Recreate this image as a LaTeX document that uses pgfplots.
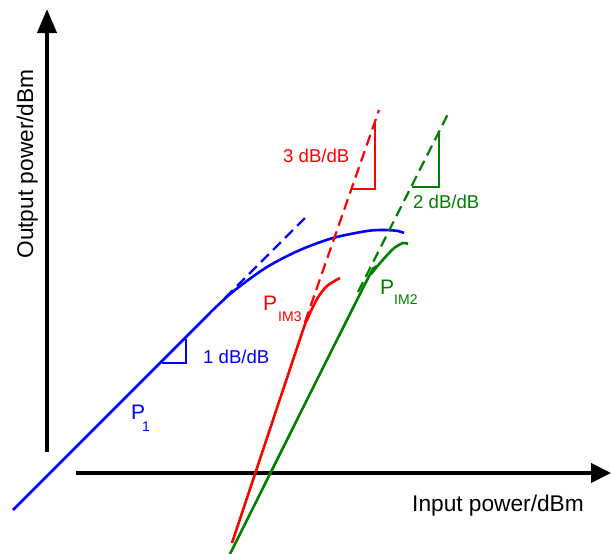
\documentclass[border=0pt]{standalone}
\usepackage{pgfplots}
\pgfplotsset{compat=1.18}
\usetikzlibrary{arrows.meta}
\usepackage{fontspec}
\setmainfont{Liberation Sans}
\definecolor{cblue}{RGB}{0,0,255}
\definecolor{cred}{RGB}{255,0,0}
\definecolor{cgreen}{RGB}{0,128,0}
\newcommand{\fa}{\fontsize{22.7}{27}\selectfont}
\newcommand{\fb}{\fontsize{18.6}{22}\selectfont}
\newcommand{\fp}{\fontsize{21}{25}\selectfont}
\newcommand{\fs}{\fontsize{14}{16}\selectfont}
\begin{document}
\begin{tikzpicture}
\begin{axis}[
  hide axis, scale only axis,
  width=611pt, height=554pt,
  xmin=0, xmax=611, ymin=0, ymax=554,
  y dir=reverse, clip=false,
]
% axes arrows
\addplot[black, line width=4pt, -{Triangle[length=24pt,width=19pt]}] coordinates {(47,452) (47,9)};
\addplot[black, line width=4pt, -{Triangle[length=20pt,width=19pt]}] coordinates {(76,473) (611,473)};
% P1 (blue)
\addplot[cblue, line width=2.6pt, smooth, tension=0.5] coordinates {
 (13,510) (190,333) (215,308) (235,290) (267,267) (300,250) (333,238) (367,231) (385,230) (398,231) (404,233)};
\addplot[cblue, line width=2.2pt, dash pattern=on 11pt off 6pt] coordinates {(225,298) (308,215)};
\addplot[cblue, line width=1.5pt] coordinates {(162,363) (186,363) (186,339)};
% PIM3 (red)
\addplot[cred, line width=2.6pt, smooth, tension=0.5] coordinates {
 (232,543) (300,339) (307,320) (317,299) (327,286) (340,278)};
\addplot[cred, line width=2.2pt, dash pattern=on 11pt off 6pt] coordinates {(305,322) (379,110)};
\addplot[cred, line width=1.5pt] coordinates {(352,189) (375,189) (375,123)};
% PIM2 (green)
\addplot[cgreen, line width=2.6pt, smooth, tension=0.5] coordinates {
 (230,554) (362,290) (372,273) (381,262) (393,249) (403,243) (408,244)};
\addplot[cgreen, line width=2.2pt, dash pattern=on 11pt off 6pt] coordinates {(358,292) (449,112)};
\addplot[cgreen, line width=1.5pt] coordinates {(412,187) (439,187) (439,132)};
% labels
\node[anchor=base west, inner sep=0pt, text=cblue] at (axis cs:203,363) {\fb 1 dB/dB};
\node[anchor=base west, inner sep=0pt, text=cred] at (axis cs:283,162) {\fb 3 dB/dB};
\node[anchor=base west, inner sep=0pt, text=cgreen] at (axis cs:413,208) {\fb 2 dB/dB};
\node[anchor=base west, inner sep=0pt, text=cblue] at (axis cs:131,419) {\fp P};
\node[anchor=base west, inner sep=0pt, text=cblue] at (axis cs:142,431) {\fs 1};
\node[anchor=base west, inner sep=0pt, text=cred] at (axis cs:263,310) {\fp P};
\node[anchor=base west, inner sep=0pt, text=cred] at (axis cs:278,321) {\fs IM3};
\node[anchor=base west, inner sep=0pt, text=cgreen] at (axis cs:380,294) {\fp P};
\node[anchor=base west, inner sep=0pt, text=cgreen] at (axis cs:394,304) {\fs IM2};
\node[anchor=base west, inner sep=0pt] at (axis cs:412,511) {\fa Input power/dBm};
\node[anchor=base, inner sep=0pt, rotate=90] at (axis cs:33,164) {\fa Output power/dBm};
\end{axis}
\pgfresetboundingbox
\path (current axis.south west) rectangle (current axis.north east);
\end{tikzpicture}
\end{document}
